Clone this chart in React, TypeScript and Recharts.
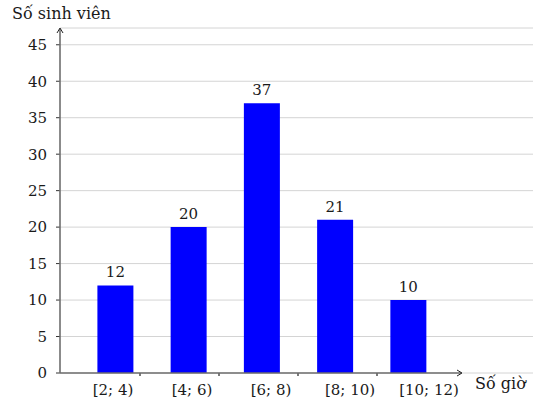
import React from 'react'
import { BarChart, Bar, XAxis, YAxis, CartesianGrid, LabelList } from 'recharts'

const intervals = ['[2; 4)', '[4; 6)', '[6; 8)', '[8; 10)', '[10; 12)']
const students = [12, 20, 37, 21, 10]
const yTicks = [0, 5, 10, 15, 20, 25, 30, 35, 40, 45]

const data = intervals.map((name, i) => ({ name, value: students[i] }))

const W = 533
const H = 414
const LEFT = 60
const TOP = 28
const BOTTOM = 373
const AXIS_END = 462
const FONT = 'DejaVu Serif'
const AXIS_COLOR = '#6e6e6e'

const IntervalTick = ({ x, y, payload, index }: any) => (
  <g>
    {index < intervals.length - 1 && (
      <line x1={x + 27} x2={x + 27} y1={BOTTOM} y2={BOTTOM + 3} stroke="#222" strokeWidth={1.2} />
    )}
    <text x={x} y={BOTTOM + 22} textAnchor="middle" fill="#1a1a1a" fontSize={15} fontFamily={FONT}>
      {payload.value}
    </text>
  </g>
)

export default function App() {
  return (
    <div style={{ position: 'absolute', left: 0, top: 0, width: W, height: H, background: '#fff' }}>
      <BarChart
        width={W}
        height={H}
        data={data}
        margin={{ top: TOP, right: 0, left: 0, bottom: 0 }}
      >
        <CartesianGrid vertical={false} stroke="#d4d4d4" strokeWidth={1} />
        <XAxis
          xAxisId="lab"
          dataKey="name"
          height={H - BOTTOM}
          axisLine={false}
          tickLine={false}
          interval={0}
          padding={{ left: 13.5, right: 64.5 }}
          tick={<IntervalTick />}
        />
        <XAxis xAxisId="bars" dataKey="name" hide height={0} padding={{ left: 18.4, right: 88.4 }} />
        <YAxis
          width={LEFT}
          domain={[0, 47.3]}
          ticks={yTicks}
          interval={0}
          axisLine={false}
          tickSize={4}
          tickMargin={9}
          tickLine={{ stroke: '#333' }}
          tick={{ fill: '#1a1a1a', fontSize: 15, fontFamily: FONT }}
        />
        <Bar xAxisId="bars" dataKey="value" fill="#0000ff" barSize={36} isAnimationActive={false}>
          <LabelList dataKey="value" position="top" offset={8} fill="#1a1a1a" fontSize={15} fontFamily={FONT} />
        </Bar>
      </BarChart>
      <svg width={W} height={H} style={{ position: 'absolute', left: 0, top: 0, pointerEvents: 'none' }}>
        <line x1={LEFT} x2={LEFT} y1={BOTTOM} y2={TOP + 1} stroke={AXIS_COLOR} strokeWidth={1.6} />
        <path d={`M${LEFT - 3},${TOP + 5} L${LEFT},${TOP} L${LEFT + 3},${TOP + 5}`} fill="none" stroke="#222" strokeWidth={1} />
        <line x1={LEFT} x2={AXIS_END - 1} y1={BOTTOM} y2={BOTTOM} stroke={AXIS_COLOR} strokeWidth={1.6} />
        <path d={`M${AXIS_END - 5},${BOTTOM - 3} L${AXIS_END},${BOTTOM} L${AXIS_END - 5},${BOTTOM + 3}`} fill="none" stroke="#222" strokeWidth={1} />
        <text x={12} y={19} fill="#1a1a1a" fontSize={16} fontFamily={FONT}>Số sinh viên</text>
        <text x={475} y={389} fill="#1a1a1a" fontSize={16} fontFamily={FONT}>Số giờ</text>
      </svg>
    </div>
  )
}
